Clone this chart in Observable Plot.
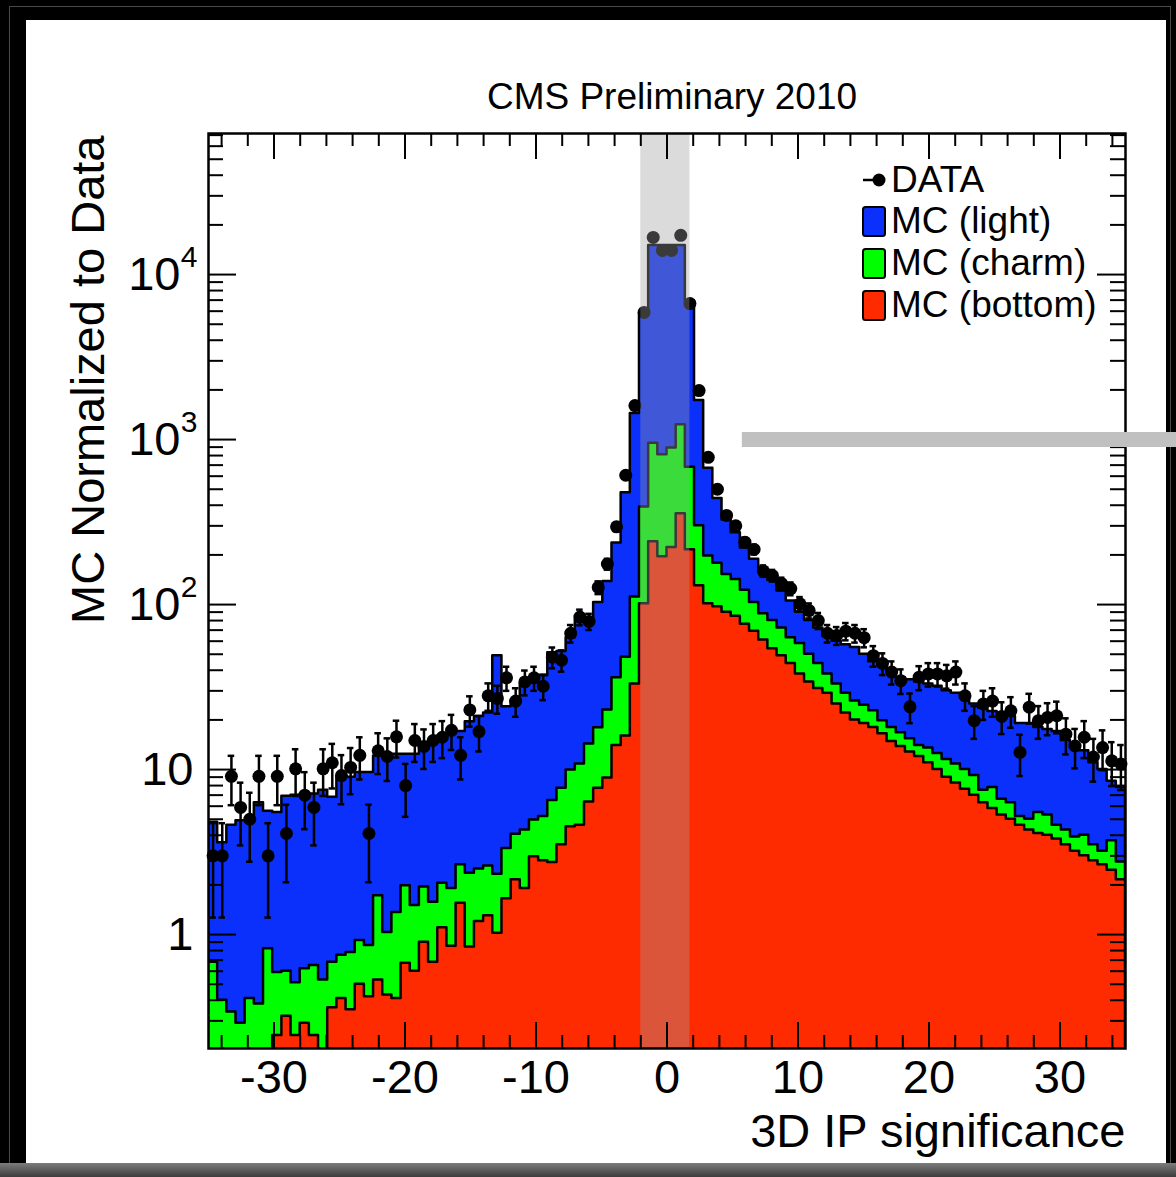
<!DOCTYPE html>
<html>
<head>
<meta charset="utf-8">
<script src="https://cdn.jsdelivr.net/npm/d3@7"></script>
<script src="https://cdn.jsdelivr.net/npm/@observablehq/plot@0.6"></script>
<style>
  html, body { margin: 0; padding: 0; background: #000; width: 1176px; height: 1177px; overflow: hidden; }
  #outer { position: absolute; left: 9px; top: 6px; width: 1160px; height: 1158px; border: 1px solid #4a4a4a; }
  #panel { position: absolute; left: 26px; top: 20px; width: 1140px; height: 1143px; background: #fff; }
  #bottomstrip { position: absolute; left: 0; top: 1163px; width: 1176px; height: 14px; background: linear-gradient(#7c7c7c, #3c3c3c); }
  #chart { position: absolute; left: 0; top: 0; }
  .leg { position: absolute; font-family: "Liberation Sans", Arial, sans-serif; font-size: 37px; line-height: 40px; color: #000; white-space: nowrap; }
  #legsw { position: absolute; left: 0; top: 0; }
</style>
</head>
<body>
<div id="outer"></div>
<div id="panel"></div>
<div id="bottomstrip"></div>
<div id="chart"></div>
<svg id="legsw" width="1176" height="400"></svg>
<script>
// ---- binning of the histogram: 100 bins from -35 to 35 ----
const binLow = -35;
const binWidth = 0.7;

// ---- DATA points (per bin) ----
const dataCounts = [
  3, 3, 9.1, 5.9, 5.0, 9.1, 3, 9.1, 4.1, 10.1,
  7.0, 5.9, 10.1, 11, 9.2, 10.3, 12.2, 4.1, 13, 12,
  15.8, 8, 15, 13.8, 15, 15.7, 17.3, 12.2, 23, 17,
  28, 27, 36, 26, 34, 36, 32, 48, 46, 67,
  84, 79, 127, 176, 296, 608, 1607, 5900, 16800, 14000,
  14000, 17300, 6670, 1980, 781, 500, 347, 300, 239, 216,
  160, 150, 134, 125, 101, 92, 80, 67, 65, 69,
  67, 63, 49, 44, 39, 34.6, 24, 36.3, 38, 38,
  37, 39, 28, 19.8, 25, 26, 21, 22.7, 12.7, 23.9,
  19.8, 20.7, 21.2, 16.4, 13.9, 15.7, 11.9, 13.6, 11.3, 10.8
];

// ---- stacked MC histogram tops (light on top of charm on top of bottom) ----
const mcLightStack = [
  4.8, 3.6, 4.6, 4.9, 4.9, 6.3, 5.6, 5.5, 6.9, 7.0,
  7.0, 7.1, 7.5, 6.8, 9.0, 9.0, 9.6, 9.6, 12.1, 12.1,
  12.4, 12.4, 12.4, 14.3, 15, 16, 16.5, 17, 19.5, 21,
  22, 49, 24, 26, 33, 35, 37, 51, 52, 63,
  81, 82, 103, 138, 236, 476, 1438, 5800, 15000, 15000,
  15000, 15000, 6950, 1723, 670, 440, 325, 272, 220, 188,
  162, 140, 121, 105, 90, 80, 72, 64, 60, 57,
  55, 50, 45, 42, 39, 36, 35, 34, 33, 32,
  30, 29, 27, 25, 23.5, 22.5, 22, 21, 19, 19,
  18, 17.5, 17, 15, 13.5, 13, 11, 10, 8.5, 7.8
];
const mcCharmStack = [
  0.68, 0.40, 0.34, 0.29, 0.41, 0.38, 0.82, 0.59, 0.60, 0.51,
  0.62, 0.65, 0.53, 0.68, 0.75, 0.78, 0.92, 0.86, 1.72, 1.03,
  1.36, 1.98, 1.5, 1.94, 1.57, 2.05, 1.9, 2.65, 2.35, 2.5,
  2.6, 2.32, 3.33, 4.05, 4.3, 4.94, 5.2, 6.5, 7.7, 9.95,
  10.8, 14.3, 17.9, 23, 36, 48, 111, 390, 950, 810,
  890, 1230, 680, 300, 197, 178, 152, 142, 122, 103,
  88, 80, 72, 63, 58, 50, 44, 38, 33, 29,
  26, 24.5, 22.7, 19.8, 18, 16.7, 15.4, 14, 13.5, 12.5,
  11.5, 10.8, 10, 9.2, 7.5, 7.8, 6.6, 6.3, 5.2, 5.0,
  5.5, 5.3, 4.6, 4.3, 3.9, 4.0, 3.5, 3.2, 3.7, 2.75
];
const mcBottom = [
  0, 0, 0, 0, 0, 0, 0, 0.245, 0.32, 0.245,
  0.29, 0.245, 0, 0.36, 0.41, 0.35, 0.5, 0.42, 0.53, 0.43,
  0.41, 0.67, 0.6, 0.9, 0.68, 1.1, 0.85, 1.55, 0.84, 1.2,
  1.3, 1.02, 1.65, 2.15, 1.9, 2.96, 2.8, 2.73, 3.5, 4.5,
  4.6, 6.35, 7.7, 8.9, 14, 16, 33, 101, 240, 195,
  222, 355, 215, 130, 101, 97, 90, 85, 76, 69,
  61, 54, 49, 44, 38, 34, 31, 29, 25, 22,
  20, 19, 18, 16.5, 14.8, 13.8, 12.8, 12.0, 11.0, 10.0,
  9.0, 8.3, 7.6, 7.0, 6.3, 5.8, 5.3, 5.0, 4.6, 4.3,
  4.1, 4.0, 3.8, 3.5, 3.2, 3.0, 2.8, 2.65, 2.45, 2.15
];

// ---- annotations ----
const shadedBand = [{x1: -2.0, x2: 1.75}];
const markerBar = [{y: 1000, x1: 5.75, x2: 40}];

// ---- axes ----
const xMajor = [-30, -20, -10, 0, 10, 20, 30];
const xMinor = d3.range(-34, 35, 2).filter(v => v % 10 !== 0);
const yPlainTicks = [1, 10];
const yPowTicks = [100, 1000, 10000];
const yPowExp = ["2", "3", "4"];
const yMajor = [1, 10, 100, 1000, 10000];
const yDomain = [0.204, 71600];
const yMinor = [];
for (const dec of [0.1, 1, 10, 100, 1000, 10000])
  for (let k = 2; k <= 9; k++) { const v = k * dec; if (v > yDomain[0] && v < yDomain[1]) yMinor.push(v); }

const BLUE = "#0b30fb", GREEN = "#00ff00", RED = "#ff2b00";
const FLOOR = 0.1;

// step outline points (two per bin)
const steps = [];
dataCounts.forEach((_, i) => {
  const x0 = binLow + binWidth * i, x1 = x0 + binWidth;
  const r = {light: mcLightStack[i], charm: mcCharmStack[i], bottom: mcBottom[i]};
  steps.push({x: x0, ...r}, {x: x1, ...r});
});
const points = dataCounts.map((v, i) => ({xc: binLow + binWidth * (i + 0.5), v}));

const frameH = 1177 - 133 - 129, frameW = 1176 - 208 - 51;
const FONT = "Liberation Sans, Arial, Helvetica, sans-serif";

const chart = Plot.plot({
  width: 1176, height: 1177,
  marginLeft: 208, marginRight: 51, marginTop: 133, marginBottom: 129,
  style: {background: "transparent", fontFamily: FONT, color: "black", overflow: "visible"},
  x: {domain: [-35, 35], axis: null},
  y: {type: "log", domain: yDomain, axis: null},
  marks: [
    Plot.areaY(steps, {x: "x", y1: FLOOR, y2: d => Math.max(d.light, FLOOR), fill: BLUE, stroke: "black", strokeWidth: 2.5, clip: true}),
    Plot.areaY(steps, {x: "x", y1: FLOOR, y2: d => Math.max(d.charm, FLOOR), fill: GREEN, stroke: "black", strokeWidth: 2.5, clip: true}),
    Plot.areaY(steps, {x: "x", y1: FLOOR, y2: d => Math.max(d.bottom, FLOOR), fill: RED, stroke: "black", strokeWidth: 2.5, clip: true}),
    // data error bars (Poisson) and markers
    Plot.ruleX(points, {x: "xc", y1: d => d.v - Math.sqrt(d.v), y2: d => d.v + Math.sqrt(d.v), stroke: "black", strokeWidth: 2.5, clip: true}),
    Plot.ruleY(points, {y: d => d.v - Math.sqrt(d.v), x1: d => d.xc - 0.25, x2: d => d.xc + 0.25, stroke: "black", strokeWidth: 2.5, clip: true}),
    Plot.ruleY(points, {y: d => d.v + Math.sqrt(d.v), x1: d => d.xc - 0.25, x2: d => d.xc + 0.25, stroke: "black", strokeWidth: 2.5, clip: true}),
    Plot.dot(points, {x: "xc", y: "v", r: 6.5, fill: "black"}),
    // shaded band
    Plot.rect(shadedBand, {x1: "x1", x2: "x2", fill: "#9d9d9d", fillOpacity: 0.37}),
    // frame and inner ticks
    Plot.frame({stroke: "black", strokeWidth: 2.5}),
    Plot.ruleX(xMajor, {insetTop: frameH - 26, stroke: "black", strokeWidth: 2}),
    Plot.ruleX(xMinor, {insetTop: frameH - 13, stroke: "black", strokeWidth: 2}),
    Plot.ruleX(xMajor, {insetBottom: frameH - 26, stroke: "black", strokeWidth: 2}),
    Plot.ruleX(xMinor, {insetBottom: frameH - 13, stroke: "black", strokeWidth: 2}),
    Plot.ruleY(yMajor, {insetRight: frameW - 28, stroke: "black", strokeWidth: 2}),
    Plot.ruleY(yMinor, {insetRight: frameW - 15, stroke: "black", strokeWidth: 2}),
    Plot.ruleY(yMajor, {insetLeft: frameW - 28, stroke: "black", strokeWidth: 2}),
    Plot.ruleY(yMinor, {insetLeft: frameW - 15, stroke: "black", strokeWidth: 2}),
    // gray marker bar
    Plot.ruleY(markerBar, {y: "y", x1: "x1", x2: "x2", stroke: "#c0c0c0", strokeWidth: 15}),
    // tick labels
    Plot.text(xMajor, {x: d => d, frameAnchor: "bottom", lineAnchor: "middle", text: d => String(d), dy: 29, fontSize: 47, fill: "black"}),
    Plot.text(yPlainTicks, {y: d => d, frameAnchor: "left", lineAnchor: "middle", text: d => String(d), textAnchor: "end", dx: -15, fontSize: 47, fill: "black"}),
    Plot.text(yPowTicks, {y: d => d, frameAnchor: "left", lineAnchor: "middle", text: () => "10", textAnchor: "end", dx: -28, fontSize: 47, fill: "black"}),
    Plot.text(yPowTicks, {y: d => d, frameAnchor: "left", lineAnchor: "middle", text: (d, i) => yPowExp[i], textAnchor: "end", dx: -11, dy: -17, fontSize: 30, fill: "black"}),
    // titles
    Plot.text(["CMS Preliminary 2010"], {frameAnchor: "top", lineAnchor: "middle", dx: 5, dy: -36, fontSize: 37, fill: "black"}),
    Plot.text(["3D IP significance"], {frameAnchor: "bottom-right", lineAnchor: "middle", textAnchor: "end", dy: 83, fontSize: 47, fill: "black"}),
    Plot.text(["MC Normalized to Data"], {frameAnchor: "top-left", lineAnchor: "middle", rotate: -90, textAnchor: "end", dx: -120, dy: 2, fontSize: 47, fill: "black"})
  ]
});
document.getElementById("chart").appendChild(chart);

// ---- legend ----
const legendEntries = [
  {label: "DATA", kind: "marker", color: "black"},
  {label: "MC (light)", kind: "box", color: BLUE},
  {label: "MC (charm)", kind: "box", color: GREEN},
  {label: "MC (bottom)", kind: "box", color: RED}
];
const legendRowCenters = [180, 221, 263, 305];
const sw = d3.select("#legsw");
legendEntries.forEach((e, i) => {
  const cy = legendRowCenters[i];
  if (e.kind === "marker") {
    sw.append("line").attr("x1", 863).attr("x2", 879).attr("y1", cy).attr("y2", cy).attr("stroke", "black").attr("stroke-width", 2.5);
    sw.append("circle").attr("cx", 879).attr("cy", cy).attr("r", 6.5).attr("fill", "black");
  } else {
    sw.append("rect").attr("x", 863).attr("y", cy - 14).attr("width", 22).attr("height", 29).attr("rx", 2.5)
      .attr("fill", e.color).attr("stroke", "black").attr("stroke-width", 2);
  }
  const div = document.createElement("div");
  div.className = "leg";
  div.textContent = e.label;
  div.style.left = "891px";
  div.style.top = (cy - 20) + "px";
  document.body.appendChild(div);
});
</script>
</body>
</html>
